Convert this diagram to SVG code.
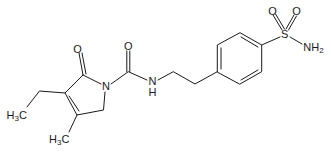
<svg xmlns="http://www.w3.org/2000/svg" width="331" height="152" viewBox="0 0 331 152">
<style>
.b{stroke:#1a1a1a;stroke-width:1;fill:none;stroke-linecap:round}
text{font-family:"Liberation Sans",Arial,sans-serif;font-size:11px;fill:#1a1a1a}
.m{text-anchor:middle}
.s{font-size:8px}
</style>
<rect width="331" height="152" fill="#fff"/>
<g id="bonds">
<path class="b" d="M83,75 L65,93 L77,115 L103.5,110 L105,92"/>
<path class="b" d="M83,75 L101,84"/>
<path class="b" d="M69,96 L79,111"/>
<path class="b" d="M65,93 L39.5,91 L27,107"/>
<path class="b" d="M77,115 L69,132"/>
<path class="b" d="M83,75 L79,53 M86,74 L82,53"/>
<path class="b" d="M111,84 L128.3,71.7 L147,80"/>
<path class="b" d="M126.8,71.7 V51 M129.8,71.7 V51"/>
<path class="b" d="M158,80 L173.3,71.7 L195,84 L217.3,71.7"/>
<path class="b" d="M217.3,71.7 V45 L240,32.7 L261.7,45 V71.7 L240,84 Z"/>
<path class="b" d="M221,69 V48 M241,37 L258,47 M258,70 L241,80"/>
<path class="b" d="M261.7,45 L280,37"/>
<path class="b" d="M282,30 L273,15 M284.5,29 L275.5,14 M286,29 L294,15 M288.5,30 L296.5,16"/>
<path class="b" d="M290,37 L302,44"/>
</g>
<g id="labels">
<text class="m" x="77.5" y="52.5">O</text>
<text class="m" x="128.3" y="50">O</text>
<text class="m" x="106" y="89.5">N</text>
<text class="m" x="152.5" y="85">N</text>
<text class="m" x="152.5" y="95.5">H</text>
<text x="6.5" y="119">H<tspan class="s" dy="2">3</tspan><tspan dy="-2">C</tspan></text>
<text x="49" y="143">H<tspan class="s" dy="2">3</tspan><tspan dy="-2">C</tspan></text>
<text class="m" x="284.7" y="38">S</text>
<text class="m" x="272.5" y="15">O</text>
<text class="m" x="296.5" y="15">O</text>
<text x="303.3" y="51">NH<tspan class="s" dy="2">2</tspan></text>
</g>
</svg>
